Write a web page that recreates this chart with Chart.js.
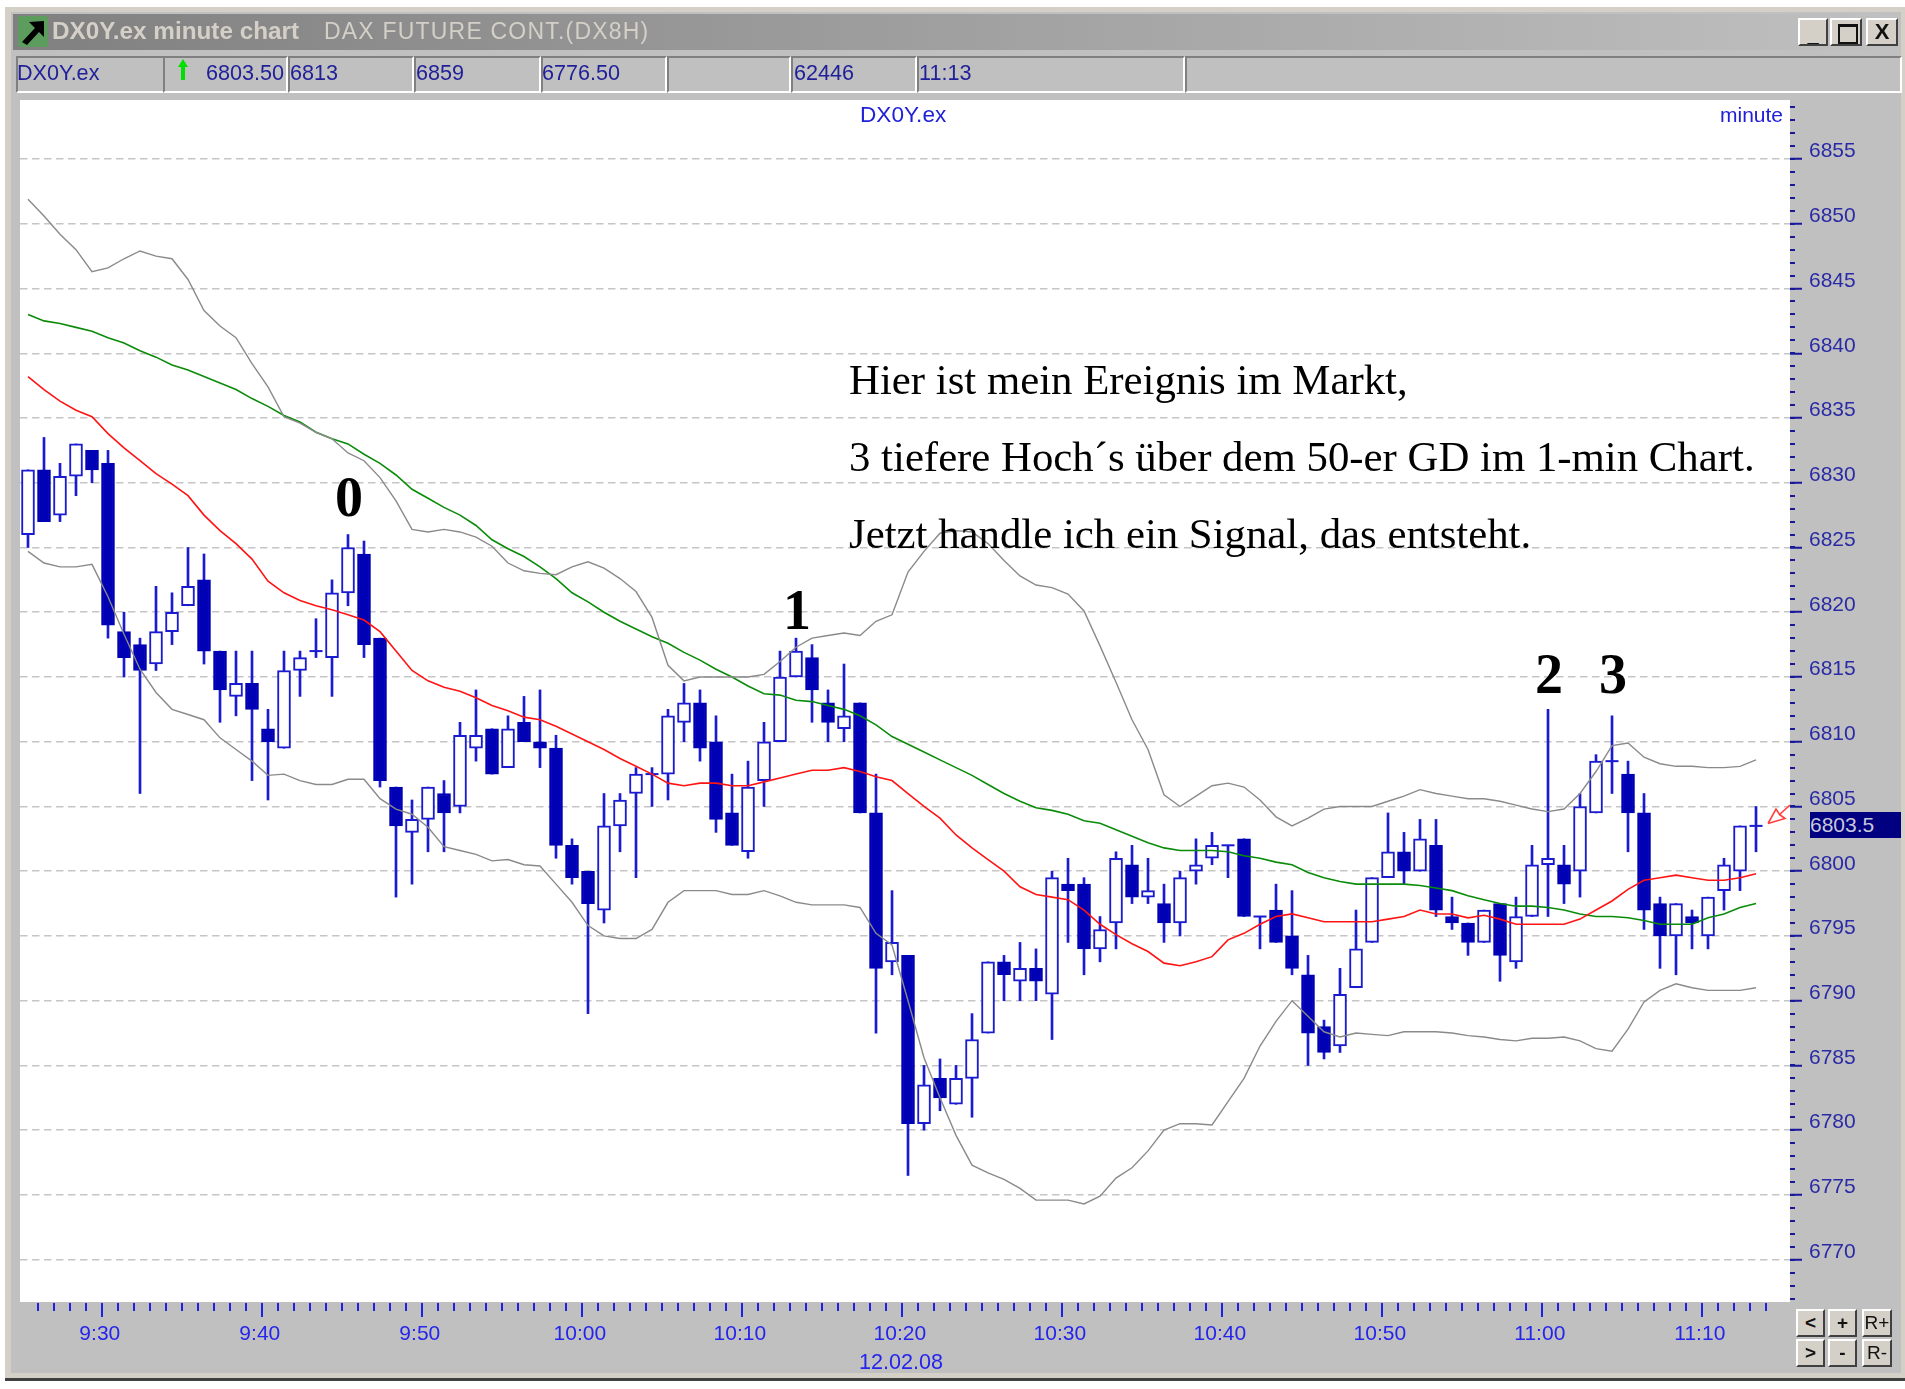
<!DOCTYPE html>
<html lang="de">
<head>
<meta charset="utf-8">
<title>DX0Y.ex minute chart</title>
<script src="https://cdn.jsdelivr.net/npm/chart.js@4"></script>
<style>
html,body{margin:0;padding:0;background:#fff;width:1905px;height:1389px;overflow:hidden}
#stage{position:relative;width:1905px;height:1389px;font-family:"Liberation Sans",Arial,sans-serif}
#stage div,#stage svg{position:absolute}
canvas{position:absolute;left:0;top:0;z-index:1}
.over{z-index:2;white-space:nowrap}
.frame{left:5px;top:7px;width:1900px;height:1371px;background:#d4d0c8;border-bottom:3px solid #404040}
.body{left:11px;top:12px;width:1890px;height:1361px;background:#c0c0c0}
.titlebar{left:13px;top:14px;width:1887px;height:36px;background:linear-gradient(90deg,#808080,#c0c0c0)}
.ttl{top:17px;font-weight:bold;font-size:24.3px;line-height:28px;color:#d4d0c8;z-index:2;white-space:nowrap}
.panel{top:56px;height:33px;border-top:2px solid #808080;border-left:2px solid #808080;border-bottom:2px solid #fff;border-right:2px solid #fff;box-sizing:content-box}
.ptxt{top:60px;font-size:21.6px;line-height:26px;color:#20209a;white-space:nowrap;z-index:2}
.btn{background:#d4d0c8;border-top:2px solid #fff;border-left:2px solid #fff;border-right:2px solid #404040;border-bottom:2px solid #404040;box-sizing:border-box;color:#111;text-align:center;z-index:2;font-weight:bold}
.ann{font-family:"Liberation Serif","Times New Roman",serif;color:#000;z-index:2;white-space:nowrap;font-size:42.8px;line-height:48px;left:849px}
.num{font-family:"Liberation Serif","Times New Roman",serif;font-weight:bold;color:#000;z-index:2;font-size:56px;line-height:60px;transform:translateX(-50%)}
</style>
</head>
<body>
<div id="stage">
  <div class="frame"></div>
  <div class="body"></div>
  <div class="titlebar"></div>
  <svg class="over" style="left:18px;top:16px" width="30" height="31" viewBox="0 0 30 31"><rect width="30" height="31" rx="2" fill="#5c9c5c"/><path d="M4 26 L17 12 L11 6 L26 5 L26 21 L21 16 L9 29 Z" fill="#000"/></svg>
  <div class="ttl" style="left:52px">DX0Y.ex minute chart</div>
  <div class="ttl" style="left:324px;font-weight:normal;font-size:23px;letter-spacing:1.2px">DAX FUTURE CONT.(DX8H)</div>
  <div class="btn" style="left:1798px;top:18px;width:30px;height:28px;font-size:20px;line-height:28px">_</div>
  <div class="btn" style="left:1830px;top:18px;width:32px;height:28px"><div style="left:6px;top:4px;width:16px;height:15px;border:2px solid #111;border-top-width:3px"></div></div>
  <div class="btn" style="left:1866px;top:18px;width:32px;height:28px;font-size:22px;line-height:24px">X</div>

  <div class="panel" style="left:16px;width:145px"></div>
  <div class="panel" style="left:163px;width:121px"></div>
  <div class="panel" style="left:288px;width:122px"></div>
  <div class="panel" style="left:414px;width:123px"></div>
  <div class="panel" style="left:541px;width:122px"></div>
  <div class="panel" style="left:667px;width:120px"></div>
  <div class="panel" style="left:791px;width:122px"></div>
  <div class="panel" style="left:917px;width:264px"></div>
  <div class="panel" style="left:1185px;width:713px"></div>
  <div class="ptxt" style="left:17px">DX0Y.ex</div>
  <svg class="over" style="left:176px;top:58px" width="14" height="24" viewBox="0 0 14 24"><path d="M7 1 L12 9 L9 9 L9 22 L5 22 L5 9 L2 9 Z" fill="#00e000"/></svg>
  <div class="ptxt" style="left:206px">6803.50</div>
  <div class="ptxt" style="left:290px">6813</div>
  <div class="ptxt" style="left:416px">6859</div>
  <div class="ptxt" style="left:542px">6776.50</div>
  <div class="ptxt" style="left:794px">62446</div>
  <div class="ptxt" style="left:919px">11:13</div>

  <canvas id="chart" width="1905" height="1389"></canvas>

  <div class="over" style="left:860px;top:102px;font-size:22.6px;line-height:26px;color:#2020d8">DX0Y.ex</div>
  <div class="over" style="left:1720px;top:102px;font-size:21px;line-height:26px;color:#2020d8">minute</div>

  <div class="ann" style="top:356px">Hier ist mein Ereignis im Markt,</div>
  <div class="ann" style="top:433px">3 tiefere Hoch´s über dem 50-er GD im 1-min Chart.</div>
  <div class="ann" style="top:510px">Jetzt handle ich ein Signal, das entsteht.</div>
  <div class="num" style="left:349px;top:467px">0</div>
  <div class="num" style="left:797px;top:580px">1</div>
  <div class="num" style="left:1549px;top:644px">2</div>
  <div class="num" style="left:1613px;top:644px">3</div>

  <div class="over" style="left:1810px;top:812px;width:91px;height:26px;background:#000080;color:#c8c8d8;font-size:21px;line-height:26px">6803.5</div>
  <svg class="over" style="left:1764px;top:802px" width="30" height="26" viewBox="0 0 30 26"><path d="M4 21.5 L12 7 L15.5 12.5 L26 3 M15.5 12.5 L21 16.5 L4 21.5" fill="none" stroke="#ff4040" stroke-width="1.6"/></svg>

  <div class="over" id="dateLabel" style="left:901px;top:1349px;transform:translateX(-50%);font-size:21.6px;line-height:26px;color:#2424ee"></div>

  <div class="btn" style="left:1796px;top:1309px;width:29px;height:28px;font-size:19px;line-height:24px">&lt;</div>
  <div class="btn" style="left:1828px;top:1309px;width:29px;height:28px;font-size:19px;line-height:24px">+</div>
  <div class="btn" style="left:1862px;top:1309px;width:30px;height:28px;font-size:19px;line-height:24px;font-weight:normal">R+</div>
  <div class="btn" style="left:1796px;top:1339px;width:29px;height:28px;font-size:19px;line-height:24px">&gt;</div>
  <div class="btn" style="left:1828px;top:1339px;width:29px;height:28px;font-size:19px;line-height:24px">-</div>
  <div class="btn" style="left:1862px;top:1339px;width:30px;height:28px;font-size:19px;line-height:24px;font-weight:normal">R-</div>
</div>
<script>
// One value per one-minute candle, first candle at 9:25
const opens = [6826,6831,6827.5,6830.5,6832.5,6831.5,6818.5,6817.5,6816,6818.5,6820.5,6822.5,6817,6813.5,6814.5,6811,6809.5,6815.5,6817,6816.5,6821.5,6824.5,6818,6806.5,6803,6804,6806,6805,6809.5,6811,6808,6811.5,6810,6809.5,6802,6800,6797,6803.5,6806,6807.5,6807.5,6811.5,6813,6810,6804.5,6801.5,6807,6810,6815,6816.5,6813,6811,6813,6804.5,6793,6793.5,6780.5,6784,6782,6784,6787.5,6793,6791.5,6792.5,6790.5,6799,6799,6794,6796,6800.5,6798,6797.5,6796,6800,6801,6802,6802.5,6796.5,6797,6795,6792,6788,6786.5,6791,6794.5,6799.5,6801.5,6800,6802,6796.5,6796,6794.5,6797.5,6793,6796.5,6800.5,6800.5,6800,6804.5,6808.5,6807.5,6804.5,6797.5,6795,6796.5,6795,6798.5,6800,6803.5];
const highs = [6831,6833.5,6831.5,6833,6832.5,6832.5,6820,6818,6822,6821.5,6825,6824.5,6817,6817,6817,6812.5,6817,6817,6819.5,6822.5,6826,6825.5,6818,6806.5,6805.5,6806.5,6807,6811.5,6814,6811,6812,6813.5,6814,6810.5,6802.5,6800,6806,6806,6808,6808,6812.5,6814.5,6814,6812,6807.5,6808.5,6811.5,6817,6818,6817.5,6814,6816,6813,6807.5,6798.5,6793.5,6785,6785.5,6785,6789,6793,6793.5,6794.5,6794,6800,6801,6799.5,6796.5,6801.5,6802,6801,6799,6800,6802.5,6803,6802,6802.5,6796.5,6799,6798.5,6793.5,6788.5,6792.5,6797,6799.5,6804.5,6803,6804,6804,6798,6796,6797,6797.5,6798,6802,6812.5,6802,6806,6809,6812,6808.5,6806,6798,6797.5,6797,6798,6801,6803.5,6805];
const lows = [6825,6827,6827,6829,6830,6818,6815,6806,6815.5,6817.5,6820.5,6816,6811.5,6812,6807,6805.5,6809.5,6813.5,6816.5,6813.5,6820.5,6816.5,6806.5,6798,6799,6801.5,6801.5,6804.5,6808.5,6807.5,6808,6810,6808,6801,6799,6789,6796,6801.5,6799.5,6805,6805.5,6810,6808.5,6803,6802,6801,6805,6810,6815,6811.5,6810,6810,6804.5,6787.5,6792,6776.5,6780,6781.5,6782,6781,6787.5,6790,6790,6790,6787,6794.5,6792,6793,6794,6797.5,6797.5,6794.5,6795,6799,6800.5,6799.5,6796.5,6794,6794.5,6792,6785,6785.5,6786,6791,6794.5,6799.5,6799,6800,6796.5,6795.5,6793.5,6794.5,6791.5,6792.5,6796.5,6796.5,6797.5,6798,6804.5,6806,6801.5,6795.5,6792.5,6792,6794,6794,6797,6798.5,6801.5];
const closes = [6831,6827,6830.5,6833,6831,6819,6816.5,6815.5,6818.5,6820,6822,6817,6814,6814.5,6812.5,6810,6815.5,6816.5,6817,6821.5,6825,6817.5,6807,6803.5,6804,6806.5,6804.5,6810.5,6810.5,6807.5,6811,6810,6809.5,6802,6799.5,6797.5,6803.5,6805.5,6807.5,6807.5,6812,6813,6809.5,6804,6802,6806.5,6810,6815,6817,6814,6811.5,6812,6804.5,6792.5,6794.5,6780.5,6783.5,6782.5,6784,6787,6793,6792,6792.5,6791.5,6799.5,6798.5,6794,6795.5,6801,6798,6798.5,6796,6799.5,6800.5,6802,6802,6796.5,6796.5,6794.5,6792.5,6787.5,6786,6790.5,6794,6799.5,6801.5,6800,6802.5,6797,6796,6794.5,6797,6793.5,6796.5,6800.5,6801,6799,6805,6808.5,6808.5,6804.5,6797,6795,6797.5,6796,6798,6800.5,6803.5,6803.5];
const bandUpper = [6851.9,6850.6,6849.2,6848,6846.3,6846.6,6847.3,6847.9,6847.5,6847.3,6845.7,6843.3,6842.1,6841.2,6839.2,6837.4,6835.1,6834.6,6833.9,6833.4,6832.3,6831.7,6830.4,6828.6,6826.4,6826.2,6826.4,6826.2,6825.8,6825.1,6823.8,6823.2,6823,6822.9,6823.5,6823.9,6823.4,6822.6,6821.6,6819.6,6815.9,6814.7,6815,6815,6815,6815,6815.2,6816.2,6817.3,6818,6818.2,6818.4,6818.2,6819.3,6819.8,6823.1,6824.7,6826.1,6826.3,6826.2,6825.3,6824,6822.8,6822.1,6821.9,6821.4,6820.1,6817.4,6814.6,6811.7,6809.4,6805.9,6805,6805.8,6806.6,6806.8,6806.5,6805.5,6804.2,6803.5,6804.1,6804.8,6805,6805,6805,6805.4,6805.8,6806.3,6806,6805.8,6805.6,6805.6,6805.4,6805.1,6804.8,6804.6,6804.8,6806,6807.7,6809.7,6809.9,6808.8,6808.3,6808.1,6808.1,6808,6808,6808.1,6808.6];
const bandLower = [6824.7,6823.8,6823.5,6823.5,6823.7,6821.2,6818.3,6815.6,6813.8,6812.5,6812.1,6811.7,6810.3,6809.4,6808.5,6807.4,6807.5,6807,6806.7,6806.7,6807.1,6807.1,6805.6,6804.8,6804.4,6803.4,6801.9,6801.6,6801.3,6800.8,6800.9,6800.5,6800.4,6799,6797.6,6795.8,6795,6794.8,6794.8,6795.5,6797.6,6798.5,6798.5,6798.5,6798.2,6798.2,6798.5,6798.1,6797.6,6797.4,6797.4,6797.4,6797.2,6795.2,6794.3,6790,6785.6,6782.5,6779.6,6777.3,6776.7,6776.2,6775.5,6774.6,6774.6,6774.6,6774.3,6774.9,6776.3,6777.1,6778.4,6780,6780.5,6780.5,6780.4,6782.2,6784,6786.5,6788.4,6790,6788.8,6787.6,6787.2,6787.5,6787.4,6787.3,6787.6,6787.6,6787.6,6787.5,6787.3,6787.2,6787,6786.9,6787.1,6787.1,6787.2,6786.9,6786.3,6786.1,6787.8,6789.9,6790.8,6791.3,6791,6790.8,6790.8,6790.8,6791];
const avgRed = [6838.2,6837.2,6836.3,6835.6,6835.1,6833.8,6832.7,6831.7,6830.7,6829.9,6829,6827.5,6826.3,6825.3,6824.1,6822.4,6821.5,6820.9,6820.5,6820.2,6819.8,6819.4,6818.5,6817,6815.5,6814.7,6814.2,6813.9,6813.4,6812.8,6812.4,6811.9,6811.7,6811.2,6810.6,6810,6809.4,6808.7,6808.1,6807.5,6806.8,6806.6,6806.8,6806.8,6806.6,6806.6,6806.9,6807.2,6807.5,6807.8,6807.8,6808,6807.7,6807.3,6807,6806,6805,6804.1,6802.8,6801.8,6800.9,6800,6798.8,6798.2,6798,6797.8,6797,6795.9,6795.1,6794.4,6793.8,6792.9,6792.7,6793,6793.4,6794.7,6795.2,6795.9,6796.5,6796.7,6796.4,6796.1,6796.1,6796.1,6796.1,6796.3,6796.5,6797,6796.7,6796.7,6796.4,6796.6,6796.3,6795.9,6795.9,6795.9,6795.9,6796.3,6797,6797.7,6798.6,6799.3,6799.5,6799.7,6799.5,6799.3,6799.3,6799.5,6799.8];
const avgGreen = [6843,6842.5,6842.3,6842,6841.7,6841.2,6840.8,6840.2,6839.7,6839.1,6838.7,6838.2,6837.7,6837.2,6836.5,6835.9,6835.2,6834.7,6833.9,6833.4,6833,6832.2,6831.5,6830.6,6829.5,6828.8,6828.1,6827.5,6826.7,6825.6,6824.9,6824.3,6823.5,6822.6,6821.5,6820.8,6820,6819.3,6818.7,6818.1,6817.6,6816.9,6816.3,6815.6,6815,6814.3,6813.7,6813.6,6813.2,6813.1,6812.8,6812.5,6812,6811.3,6810.4,6809.8,6809.2,6808.6,6808,6807.4,6806.7,6806,6805.4,6804.9,6804.7,6804.4,6803.9,6803.7,6803.2,6802.7,6802.2,6801.8,6801.6,6801.6,6801.6,6801.5,6801.2,6801,6800.7,6800.5,6799.9,6799.5,6799.2,6799,6799,6799,6799,6798.9,6798.7,6798.5,6798.1,6797.8,6797.5,6797.3,6797.3,6797.2,6797,6796.7,6796.5,6796.5,6796.4,6796.2,6795.9,6795.9,6795.9,6796.4,6796.7,6797.2,6797.5];
const priceTicks = [6770,6775,6780,6785,6790,6795,6800,6805,6810,6815,6820,6825,6830,6835,6840,6845,6850,6855];
const timeLabels = ["9:30","9:40","9:50","10:00","10:10","10:20","10:30","10:40","10:50","11:00","11:10"];
const timeTickMinutes = [5,15,25,35,45,55,65,75,85,95,105]; // minutes after 9:25
const dateLabel = "12.02.08";

document.getElementById('dateLabel').textContent = dateLabel;

// Style constants
const candleShift = 0.356;           // the candle sits inside its minute
const upColor = '#1a1ad0', downColor = '#0000b4';
const minuteOf = i => i + candleShift;

const indices = opens.map((o, i) => i);
const solidIdx = indices.filter(i => opens[i] !== closes[i]);
const dojiIdx = indices.filter(i => opens[i] === closes[i]);
const wickData = lows.map((l, i) => ({x: minuteOf(i), y: [l, highs[i]]}));
const bodyData = solidIdx.map(i => ({x: minuteOf(i), y: [opens[i], closes[i]]}));
const dojiData = dojiIdx.map(i => ({x: minuteOf(i), y: closes[i]}));
const isUp = i => closes[i] > opens[i];
const lineData = arr => arr.map((v, i) => ({x: minuteOf(i), y: v}));
const lineSet = (data, color, width) => ({type: 'line', data: lineData(data), borderColor: color, borderWidth: width, pointRadius: 0, tension: 0, order: 1, fill: false});

const chrome = {
  id: 'chrome',
  beforeDraw(c) {
    const a = c.chartArea, g = c.ctx;
    g.save(); g.fillStyle = '#fff'; g.fillRect(a.left, a.top, a.right - a.left, a.bottom - a.top); g.restore();
  },
  afterDraw(c) {
    const g = c.ctx, a = c.chartArea, X = c.scales.x, Y = c.scales.y;
    g.save();
    // one-minute tick marks (long on the labelled minutes) and one-point marks, placed by the scales
    g.fillStyle = '#2020e0';
    for (let m = 1; m <= 109; m++) {
      const len = timeTickMinutes.includes(m) ? 14 : 8;
      g.fillRect(Math.round(X.getPixelForValue(m)) - 1, a.bottom + 1, 2, len);
    }
    g.fillStyle = '#18189c';
    for (let v = 6767; v <= 6859; v++) g.fillRect(a.right, Math.round(Y.getPixelForValue(v)) - 1, 5, 2);
    g.restore();
  }
};

new Chart(document.getElementById('chart'), {
  type: 'bar',
  data: {
    datasets: [
      lineSet(bandUpper, '#8a8a8a', 1.4),
      lineSet(bandLower, '#8a8a8a', 1.4),
      lineSet(avgRed, '#ff1414', 1.6),
      lineSet(avgGreen, '#0a8c0a', 1.6),
      {type: 'line', data: dojiData, showLine: false, order: 2, pointStyle: 'line', pointRadius: 6.5, pointBorderWidth: 2, pointBorderColor: upColor, pointBackgroundColor: upColor},
      {data: bodyData, grouped: false, order: 2, barThickness: 13, borderSkipped: false, borderWidth: 2,
       backgroundColor: solidIdx.map(i => isUp(i) ? '#ffffff' : downColor),
       borderColor: solidIdx.map(i => isUp(i) ? upColor : downColor)},
      {data: wickData, grouped: false, order: 3, barThickness: 2, borderWidth: 0, backgroundColor: upColor}
    ]
  },
  options: {
    responsive: false, animation: false, devicePixelRatio: 1,
    layout: {padding: {left: 20, top: 100, right: 0, bottom: 0}},
    plugins: {legend: {display: false}, tooltip: {enabled: false}, title: {display: false}},
    scales: {
      x: {
        type: 'linear', position: 'bottom', offset: false,
        min: -0.144, max: 110.48,
        afterBuildTicks: s => { s.ticks = timeTickMinutes.map(v => ({value: v})); },
        afterFit: s => { s.height = 87; },
        ticks: {
          autoSkip: false, maxRotation: 0, minRotation: 0, padding: 20, labelOffset: -2.5,
          color: '#2424ee', font: {family: '"Liberation Sans"', size: 21},
          callback: v => timeLabels[timeTickMinutes.indexOf(v)]
        },
        grid: {display: false, drawOnChartArea: false, drawTicks: false},
        border: {display: false}
      },
      y: {
        type: 'linear', position: 'right',
        min: 6766.73, max: 6859.56,
        afterBuildTicks: s => { s.ticks = priceTicks.map(v => ({value: v})); },
        afterFit: s => { s.width = 115; },
        ticks: {
          autoSkip: false, padding: 7, labelOffset: -7.5,
          color: '#2a2aa6', font: {family: '"Liberation Sans"', size: 21},
          callback: v => String(v)
        },
        grid: {color: '#c6c6c6', lineWidth: 1.5, drawTicks: true, tickLength: 12, tickWidth: 2, tickColor: '#18189c'},
        border: {display: false, dash: [7.5, 4.5]}
      }
    }
  },
  plugins: [chrome]
});
</script>
</body>
</html>
